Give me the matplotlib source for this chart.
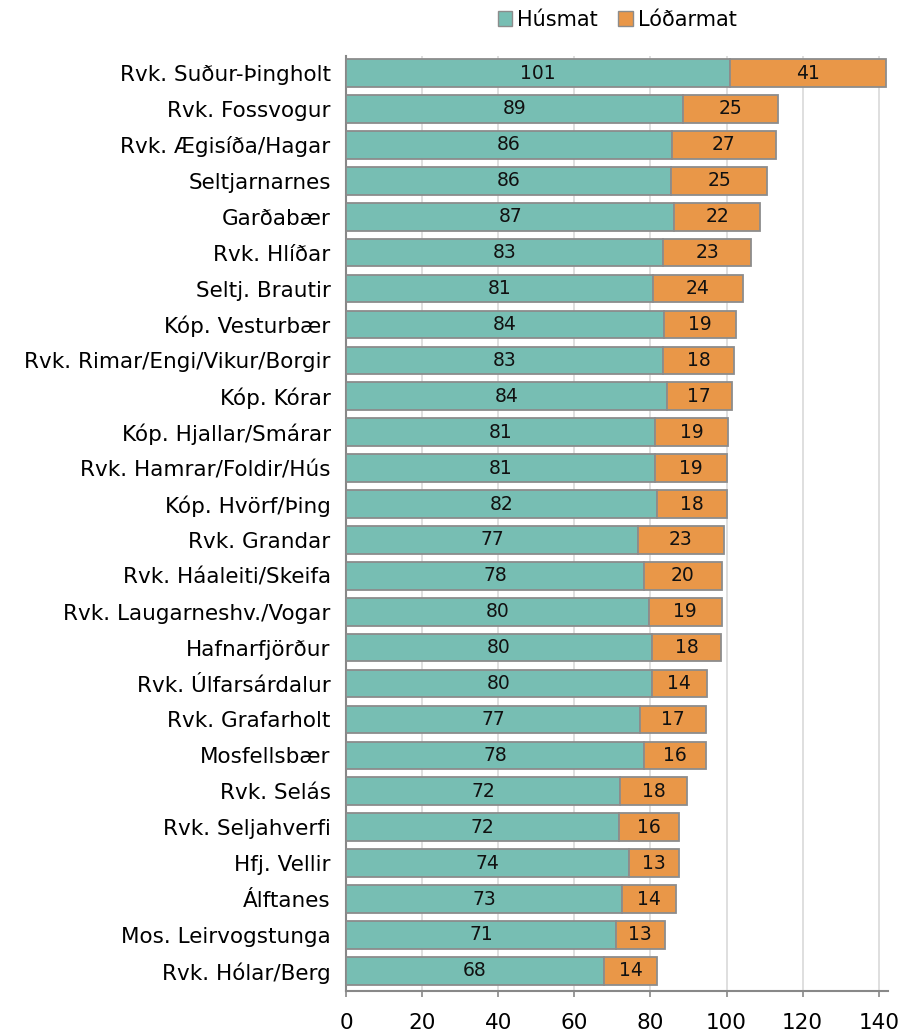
import numpy as np
import matplotlib.pyplot as plt
from matplotlib.patches import Patch

areas = ['Rvk. Suður-Þingholt', 'Rvk. Fossvogur', 'Rvk. Ægisíða/Hagar', 'Seltjarnarnes',
         'Garðabær', 'Rvk. Hlíðar', 'Seltj. Brautir', 'Kóp. Vesturbær',
         'Rvk. Rimar/Engi/Vikur/Borgir', 'Kóp. Kórar', 'Kóp. Hjallar/Smárar',
         'Rvk. Hamrar/Foldir/Hús', 'Kóp. Hvörf/Þing', 'Rvk. Grandar',
         'Rvk. Háaleiti/Skeifa', 'Rvk. Laugarneshv./Vogar', 'Hafnarfjörður',
         'Rvk. Úlfarsárdalur', 'Rvk. Grafarholt', 'Mosfellsbær', 'Rvk. Selás',
         'Rvk. Seljahverfi', 'Hfj. Vellir', 'Álftanes', 'Mos. Leirvogstunga',
         'Rvk. Hólar/Berg']
husmat = [101, 89, 86, 86, 87, 83, 81, 84, 83, 84, 81, 81, 82, 77, 78, 80, 80, 80, 77, 78,
          72, 72, 74, 73, 71, 68]
lodarmat = [41, 25, 27, 25, 22, 23, 24, 19, 18, 17, 19, 19, 18, 23, 20, 19, 18, 14, 17, 16,
            18, 16, 13, 14, 13, 14]
# shown values are rounded; bar lengths
husmat_exact = [100.8, 88.6, 85.6, 85.5, 86.3, 83.3, 80.6, 83.6, 83.4, 84.3, 81.2, 81.2,
                81.8, 76.7, 78.3, 79.5, 80.4, 80.3, 77.2, 78.3, 72.0, 71.8, 74.4, 72.6,
                70.9, 67.8]
lodarmat_exact = [41.2, 25.0, 27.4, 25.2, 22.6, 23.2, 23.6, 19.0, 18.6, 17.0, 19.2, 19.0,
                  18.3, 22.6, 20.4, 19.2, 18.2, 14.6, 17.4, 16.2, 17.6, 15.8, 13.0, 14.2,
                  12.9, 14.0]

teal = '#77BEB3'
orange = '#E99748'
edge = '#8C8C8C'

plt.rcParams['font.family'] = 'DejaVu Sans'
fig = plt.figure(figsize=(9.17, 10.34), dpi=100)
ax = fig.add_axes([0.3773, 0.0416, 0.591, 0.9044])

y = np.arange(len(areas))
ax.barh(y, husmat_exact, height=0.77, color=teal, edgecolor=edge, linewidth=1.3, zorder=3)
ax.barh(y, lodarmat_exact, left=husmat_exact, height=0.77, color=orange, edgecolor=edge,
        linewidth=1.3, zorder=3)

for i in range(len(areas)):
    ax.text(husmat_exact[i] / 2, y[i], str(husmat[i]), ha='center', va='center',
            fontsize=13.5, color='#111111', zorder=4)
    ax.text(husmat_exact[i] + lodarmat_exact[i] / 2, y[i], str(lodarmat[i]), ha='center',
            va='center', fontsize=13.5, color='#111111', zorder=4)

ax.set_yticks(y)
ax.set_yticklabels(areas, fontsize=15.5)
ax.set_ylim(25.56, -0.48)
ax.set_xlim(0, 142.4)
ax.set_xticks(np.arange(0, 141, 20))
ax.tick_params(axis='x', labelsize=15.5, length=4.5, width=1.2, color='#888888',
               direction='out', pad=11)
ax.tick_params(axis='y', length=0, pad=11)
ax.grid(axis='x', color='#D9D9D9', linewidth=1.2, zorder=0)
for s in ['top', 'right']:
    ax.spines[s].set_visible(False)
ax.spines['left'].set_color('#888888')
ax.spines['bottom'].set_color('#888888')
ax.spines['left'].set_linewidth(1.5)
ax.spines['bottom'].set_linewidth(1.5)

handles = [Patch(facecolor=teal, edgecolor=edge, label='Húsmat'),
           Patch(facecolor=orange, edgecolor=edge, label='Lóðarmat')]
fig.legend(handles=handles, loc='center', bbox_to_anchor=(0.673, 0.981), ncol=2,
           frameon=False, fontsize=15, handlelength=0.68, handleheight=0.68,
           handletextpad=0.25, columnspacing=1.0, borderpad=0)

fig.savefig('out.png', dpi=100)
